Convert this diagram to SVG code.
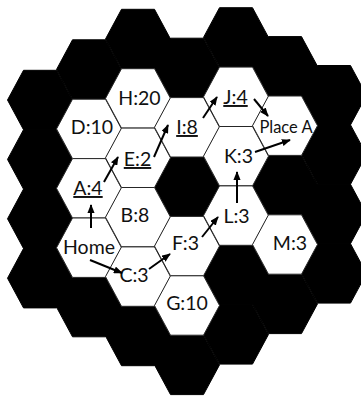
<svg xmlns="http://www.w3.org/2000/svg" xmlns:xlink="http://www.w3.org/1999/xlink" width="361" height="396" viewBox="0 0 361 396">
<style>
.blk{fill:#000;stroke:#000;stroke-width:1}
.wht{fill:#fff;stroke:#262626;stroke-width:1}
.lbl{font-family:Lato,"Open Sans",sans-serif;font-size:19.5px;fill:#111;text-anchor:middle}
.sm{font-size:16.5px}
.u{text-decoration:underline}
.arr{stroke:#000;stroke-width:2;fill:none;marker-end:url(#ah)}
</style>
<defs>
<polygon id="hex" points="-32.5,0 -16.5,-29.7 16.5,-29.7 32.5,0 16.5,29.7 -16.5,29.7"/>
<marker id="ah" viewBox="0 0 10 8" refX="9" refY="4" markerWidth="4.5" markerHeight="3.6" orient="auto" markerUnits="strokeWidth">
<path d="M0,0 L10,4 L0,8 z" fill="#000"/>
</marker>
</defs>
<g id="walls">
<use xlink:href="#hex" class="blk" x="40" y="100"/>
<use xlink:href="#hex" class="blk" x="40" y="159.4"/>
<use xlink:href="#hex" class="blk" x="40" y="218.8"/>
<use xlink:href="#hex" class="blk" x="40" y="278.2"/>
<use xlink:href="#hex" class="blk" x="89" y="69.5"/>
<use xlink:href="#hex" class="blk" x="89" y="307.1"/>
<use xlink:href="#hex" class="blk" x="138" y="39"/>
<use xlink:href="#hex" class="blk" x="138" y="336"/>
<use xlink:href="#hex" class="blk" x="187" y="67.9"/>
<use xlink:href="#hex" class="blk" x="187" y="186.7"/>
<use xlink:href="#hex" class="blk" x="187" y="364.9"/>
<use xlink:href="#hex" class="blk" x="236" y="37.4"/>
<use xlink:href="#hex" class="blk" x="236" y="275"/>
<use xlink:href="#hex" class="blk" x="236" y="334.4"/>
<use xlink:href="#hex" class="blk" x="285" y="66.3"/>
<use xlink:href="#hex" class="blk" x="285" y="185.1"/>
<use xlink:href="#hex" class="blk" x="285" y="303.9"/>
<use xlink:href="#hex" class="blk" x="334" y="95.2"/>
<use xlink:href="#hex" class="blk" x="334" y="154.6"/>
<use xlink:href="#hex" class="blk" x="334" y="214"/>
<use xlink:href="#hex" class="blk" x="334" y="273.4"/>
</g>
<g id="D"><use xlink:href="#hex" class="wht" x="89" y="128.9"/><text class="lbl" x="92" y="134">D:10</text></g>
<g id="A"><use xlink:href="#hex" class="wht" x="89" y="188.3"/><text class="lbl u" x="88" y="195">A:4</text></g>
<g id="Home"><use xlink:href="#hex" class="wht" x="89" y="247.7"/><text class="lbl" x="89" y="254">Home</text></g>
<g id="H"><use xlink:href="#hex" class="wht" x="138" y="98.4"/><text class="lbl" x="139.5" y="105">H:20</text></g>
<g id="E"><use xlink:href="#hex" class="wht" x="138" y="157.8"/><text class="lbl u" x="137.5" y="166">E:2</text></g>
<g id="B"><use xlink:href="#hex" class="wht" x="138" y="217.2"/><text class="lbl" x="135" y="222">B:8</text></g>
<g id="C"><use xlink:href="#hex" class="wht" x="138" y="276.6"/><text class="lbl" x="134" y="282">C:3</text></g>
<g id="I"><use xlink:href="#hex" class="wht" x="187" y="127.3"/><text class="lbl u" x="187" y="134">I:8</text></g>
<g id="F"><use xlink:href="#hex" class="wht" x="187" y="246.1"/><text class="lbl" x="185.5" y="250">F:3</text></g>
<g id="G"><use xlink:href="#hex" class="wht" x="187" y="305.5"/><text class="lbl" x="187" y="310">G:10</text></g>
<g id="J"><use xlink:href="#hex" class="wht" x="236" y="96.8"/><text class="lbl u" x="235.5" y="104">J:4</text></g>
<g id="K"><use xlink:href="#hex" class="wht" x="236" y="156.2"/><text class="lbl" x="238.5" y="163">K:3</text></g>
<g id="L"><use xlink:href="#hex" class="wht" x="236" y="215.6"/><text class="lbl" x="236.5" y="223">L:3</text></g>
<g id="PlaceA"><use xlink:href="#hex" class="wht" x="285" y="125.7"/><text class="lbl sm" x="286" y="133">Place A</text></g>
<g id="M"><use xlink:href="#hex" class="wht" x="285" y="244.5"/><text class="lbl" x="290" y="250">M:3</text></g>
<g id="connectors">
<line class="arr" x1="91" y1="228" x2="91" y2="205"/>
<line class="arr" x1="104" y1="182" x2="118" y2="157"/>
<line class="arr" x1="154" y1="157" x2="168" y2="125"/>
<line class="arr" x1="203" y1="118" x2="217" y2="97"/>
<line class="arr" x1="254" y1="99" x2="268" y2="116"/>
<line class="arr" x1="255" y1="152" x2="290" y2="140"/>
<line class="arr" x1="237" y1="203" x2="237" y2="172"/>
<line class="arr" x1="202" y1="237" x2="218" y2="217"/>
<line class="arr" x1="90" y1="260" x2="122" y2="273"/>
<line class="arr" x1="149" y1="269" x2="170" y2="254"/>
</g>
</svg>
